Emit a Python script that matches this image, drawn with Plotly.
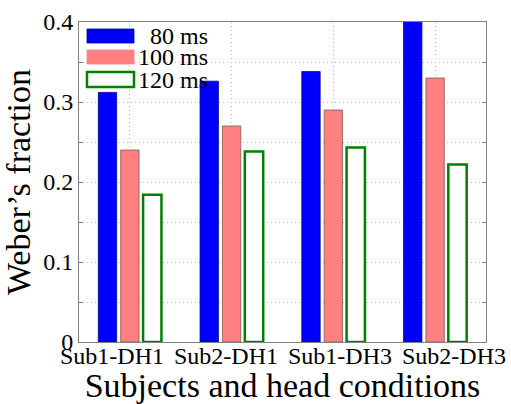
import plotly.graph_objects as go

categories = ["Sub1-DH1", "Sub2-DH1", "Sub1-DH3", "Sub2-DH3"]
series_names = ["80 ms", "100 ms", "120 ms"]
vals_80 = [0.312, 0.326, 0.338, 0.405]
vals_100 = [0.240, 0.270, 0.290, 0.330]
vals_120 = [0.184, 0.238, 0.243, 0.222]
y_tickvals = [0, 0.05, 0.1, 0.15, 0.2, 0.25, 0.3, 0.35, 0.4]
y_ticktext = ["0", "", "0.1", "", "0.2", "", "0.3", "", "0.4"]

FONT = "Liberation Serif"
W, H = 511, 404
ML, MR, MT, MB = 79, 25, 22, 62
PW, PH = W - ML - MR, H - MT - MB

fig = go.Figure()
fig.add_trace(go.Bar(x=categories, y=vals_80, name=series_names[0],
                     marker=dict(color="#0000FF", line=dict(color="#00008a", width=0.8))))
fig.add_trace(go.Bar(x=categories, y=vals_100, name=series_names[1],
                     marker=dict(color="#FF8080", line=dict(color="#7a5a5a", width=0.8))))
fig.add_trace(go.Bar(x=categories, y=vals_120, name=series_names[2],
                     marker=dict(color="white", line=dict(color="#008000", width=2.5))))
# invisible carrier so the label axis (x2) is drawn
fig.add_trace(go.Scatter(x=categories, y=vals_80, xaxis="x2", yaxis="y",
                         mode="markers", marker=dict(opacity=0, size=1),
                         hoverinfo="skip", showlegend=False))

fig.update_layout(
    width=W, height=H,
    margin=dict(l=ML, r=MR, t=MT, b=MB, pad=0, autoexpand=False),
    paper_bgcolor="white", plot_bgcolor="white",
    barmode="group", bargap=0.34, bargroupgap=0.18,
    showlegend=False,
    font=dict(family=FONT, color="black", size=24),
)
fig.update_xaxes(
    automargin=False,
    showline=True, linecolor="#808080", linewidth=1, mirror=True,
    showgrid=True, gridcolor="#b8b8b8", griddash="1px,3px", gridwidth=1,
    ticks="", showticklabels=False,
    range=[-0.5, 3.5],
)
# label axis: the original's category labels are spread wider than the bar groups
lab_step_px = 114.0
lab_first_px = 112.0
r0 = -(lab_first_px - ML) / lab_step_px
r1 = r0 + PW / lab_step_px
fig.update_layout(xaxis2=dict(
    overlaying="x", anchor="y", side="bottom", automargin=False,
    type="category", range=[r0, r1],
    tickangle=0, ticks="", showgrid=False, zeroline=False,
    showline=False, ticklabelstandoff=-3,
    tickfont=dict(size=24, family=FONT, color="black"),
    title=dict(text="Subjects and head conditions", font=dict(size=34, family=FONT), standoff=0),
))
fig.update_yaxes(
    automargin=False,
    range=[0, 0.4], tickvals=y_tickvals, ticktext=y_ticktext,
    showline=True, linecolor="#808080", linewidth=1, mirror="ticks",
    showgrid=True, gridcolor="#b8b8b8", griddash="1px,3px", gridwidth=1,
    ticks="inside", ticklen=4, tickcolor="#808080",
    tickfont=dict(size=24, family=FONT),
    title=dict(text="Weber\u2019s fraction", font=dict(size=34, family=FONT), standoff=4),
    zeroline=False,
)

# custom legend (wide swatches, like the original)
def px_x(p):
    return (p - ML) / PW

def px_y(p):
    return (H - MB - p) / PH

legend_rows = [
    (series_names[0], "#0000FF", "#00008a", 0.8, 29, 43),
    (series_names[1], "#FF8080", "#FF8080", 0.8, 50, 64),
    (series_names[2], "white", "#008000", 2.5, 72, 87),
]
for name, fill, line, lw, y0, y1 in legend_rows:
    fig.add_shape(type="rect", xref="paper", yref="paper",
                  x0=px_x(87), x1=px_x(134), y0=px_y(y1), y1=px_y(y0),
                  fillcolor=fill, line=dict(color=line, width=lw), layer="above")
    fig.add_annotation(xref="paper", yref="paper", x=px_x(209), y=px_y((y0 + y1) / 2),
                       text=name, showarrow=False, xanchor="right", yanchor="middle",
                       height=20, borderpad=0,
                       font=dict(size=24, family=FONT, color="black"))

fig.write_html("out.html")
